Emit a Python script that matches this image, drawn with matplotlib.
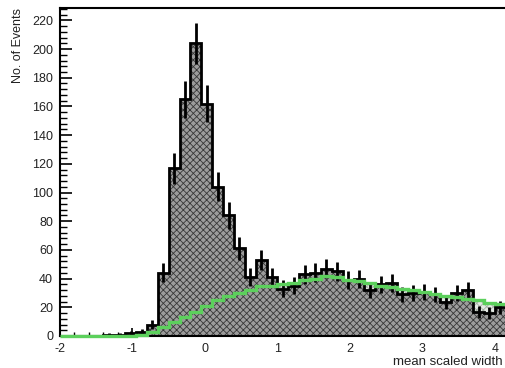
import numpy as np
import matplotlib
matplotlib.use("Agg")
import matplotlib.pyplot as plt
from matplotlib.ticker import MultipleLocator

plt.rcParams['font.family'] = ['Liberation Sans', 'DejaVu Sans']
plt.rcParams['axes.unicode_minus'] = False
plt.rcParams['hatch.linewidth'] = 0.6

# ---- data (bin width 0.15 starting at -2) ----
bin_start = -2.0
bin_width = 0.15
data_counts = [0, 0, 0, 0, 1, 1, 2, 3, 8, 44,
               117, 165, 204, 162, 104, 84, 61, 41, 53, 41,
               33, 35, 43, 44, 47, 45, 39, 40, 32, 36,
               37, 29, 30, 31, 29, 24, 30, 32, 17, 16,
               20, 18]
mc_counts = [0, 0, 0, 0, 0, 0, 0, 1, 3, 6,
             10, 13, 17, 21, 25, 28, 30, 32, 35, 35,
             36, 37, 39, 40, 42, 41, 39, 38, 37, 35,
             34, 33, 32, 31, 29, 28, 27, 26, 25, 23,
             22, 21]
x_ticks = [-2, -1, 0, 1, 2, 3, 4]
y_ticks = [0, 20, 40, 60, 80, 100, 120, 140, 160, 180, 200, 220]

data = np.array(data_counts, dtype=float)
mc = np.array(mc_counts, dtype=float)
edges = bin_start + bin_width * np.arange(len(data) + 1)
centers = 0.5 * (edges[:-1] + edges[1:])

W, H = 505, 368
fig = plt.figure(figsize=(W / 100, H / 100), dpi=100)
ax = fig.add_axes([60 / W, 32 / H, 1 - 60 / W, (336 - 8) / H])

# MC fill (light pattern)
ax.stairs(mc, edges, fill=True, facecolor='#e4e9e4', edgecolor='#a3ada3',
          hatch='xxxxx', linewidth=0, zorder=1)
# data fill (dark pattern)
ax.stairs(data, edges, fill=True, facecolor='#9c9c9c', edgecolor='#383838',
          hatch='xxxxx', linewidth=0, zorder=2)
# data outline
ax.stairs(data, edges, color='black', linewidth=2.0, baseline=0, zorder=4)
# error bars
nz = data > 0
err = np.sqrt(data[nz])
ax.vlines(centers[nz], data[nz] - err, data[nz] + err, color='black',
          linewidth=2.0, zorder=4)
# MC line
ax.stairs(mc, edges, color='#5cd05c', linewidth=2.4, zorder=7, clip_on=False)

ax.set_xlim(-2, 4.14)
ax.set_ylim(0, 228.6)
ax.set_xticks(x_ticks)
ax.set_yticks(y_ticks)
ax.xaxis.set_minor_locator(MultipleLocator(0.2))
ax.yaxis.set_minor_locator(MultipleLocator(4))
ax.tick_params(axis='y', which='major', direction='in', length=12 * 0.72,
               width=1.2, labelsize=9, pad=5, labelcolor='#222222')
ax.tick_params(axis='y', which='minor', direction='in', length=6.5 * 0.72,
               width=1.0)
ax.tick_params(axis='x', which='major', direction='in', length=8 * 0.72,
               width=1.2, labelsize=9, pad=5, labelcolor='#222222')
ax.tick_params(axis='x', which='minor', direction='in', length=4 * 0.72,
               width=1.0)
for side in ['left', 'top', 'bottom']:
    ax.spines[side].set_linewidth(1.5)
    ax.spines[side].set_zorder(6)
ax.spines['right'].set_visible(False)

fig.text(18 / W, 1 - 8 / H, 'No. of Events', rotation=90, ha='center',
         va='top', fontsize=9, color='#222222')
fig.text(503 / W, 1 - 362 / H, 'mean scaled width', ha='right',
         va='center', fontsize=9.5, color='#222222')

fig.savefig('out.png', dpi=100, facecolor='white')
